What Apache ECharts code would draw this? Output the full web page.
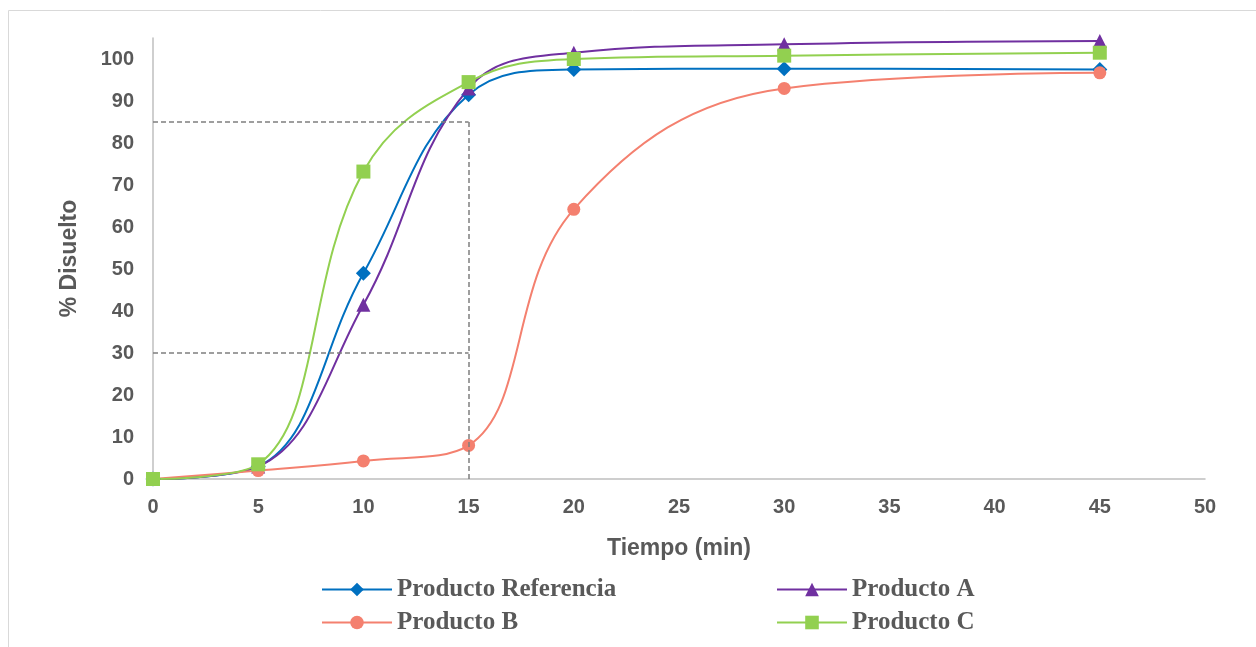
<!DOCTYPE html>
<html>
<head>
<meta charset="utf-8">
<script src="https://cdn.jsdelivr.net/npm/echarts@6/dist/echarts.min.js"></script>
<style>
  html, body { margin: 0; padding: 0; background: #fff; }
  #chart { width: 1256px; height: 647px; }
</style>
</head>
<body>
<div id="chart"></div>
<script>
const tiempo = [0, 5, 10, 15, 20, 30, 45];
const referencia = [0, 3, 49, 91.5, 97.5, 97.7, 97.5];
const productoA = [0, 3, 41.5, 93, 101.5, 103.5, 104.3];
const productoB = [0, 2, 4.3, 8, 64.2, 93, 96.7];
const productoC = [0, 3.5, 73.2, 94.5, 100, 100.8, 101.5];

// guías punteadas
const guias = [
  [[0, 85], [15, 85]],
  [[0, 30], [15, 30]],
  [[15, 0], [15, 85]]
];

const gray = "#595959";

function pares(ys) {
  return tiempo.map((t, i) => [t, ys[i]]);
}

function serie(name, ys, color, symbol, size) {
  return {
    name: name,
    type: "line",
    data: pares(ys),
    smooth: 0.4,
    symbol: symbol,
    symbolSize: size,
    lineStyle: { color: color, width: 2 },
    itemStyle: { color: color },
    z: 3
  };
}

const chart = echarts.init(document.getElementById("chart"));

const series = [
  serie("Producto Referencia", referencia, "#0070C0", "diamond", 15),
  serie("Producto A", productoA, "#7030A0", "triangle", 14),
  serie("Producto B", productoB, "#F4806F", "circle", 13),
  serie("Producto C", productoC, "#92D050", "rect", 14)
];

series[0].markLine = {
  silent: true,
  symbol: "none",
  label: { show: false },
  lineStyle: { color: "#7f7f7f", type: [5, 3], width: 1.5 },
  data: guias.map(g => [{ coord: g[0] }, { coord: g[1] }])
};

const legendText = {
  fontFamily: "Liberation Serif",
  fontWeight: 900,
  fontSize: 25,
  color: gray
};

chart.setOption({
  animation: false,
  graphic: [{
    type: "rect",
    shape: { x: 8.5, y: 10.5, width: 1260, height: 650 },
    style: { fill: "none", stroke: "#d9d9d9", lineWidth: 1 }
  }],
  grid: { left: 153, right: 51, top: 38, bottom: 168 },
  legend: [
    {
      data: ["Producto Referencia", "Producto B"],
      orient: "vertical",
      left: 316,
      top: 572,
      itemWidth: 70,
      itemHeight: 17,
      itemGap: 8,
      textStyle: legendText
    },
    {
      data: ["Producto A", "Producto C"],
      orient: "vertical",
      left: 771,
      top: 572,
      itemWidth: 70,
      itemHeight: 17,
      itemGap: 8,
      textStyle: legendText
    }
  ],
  xAxis: {
    type: "value",
    min: 0,
    max: 50,
    interval: 5,
    name: "Tiempo (min)",
    nameLocation: "middle",
    nameGap: 58,
    nameTextStyle: { fontFamily: "Liberation Sans", fontWeight: "bold", fontSize: 23, color: gray },
    axisLine: { show: true, lineStyle: { color: "#bfbfbf", width: 1.5 } },
    axisTick: { show: false },
    splitLine: { show: false },
    axisLabel: { fontFamily: "Liberation Sans", fontWeight: "bold", fontSize: 20, color: gray, margin: 18 }
  },
  yAxis: {
    type: "value",
    min: 0,
    max: 105,
    interval: 10,
    name: "% Disuelto",
    nameLocation: "middle",
    nameGap: 72,
    nameTextStyle: { fontFamily: "Liberation Sans", fontWeight: "bold", fontSize: 23, color: gray },
    axisLine: { show: true, lineStyle: { color: "#bfbfbf", width: 1.5 } },
    axisTick: { show: false },
    splitLine: { show: false },
    axisLabel: {
      fontFamily: "Liberation Sans", fontWeight: "bold", fontSize: 20, color: gray, margin: 19,
      formatter: v => (v <= 100 ? v : "")
    }
  },
  series: series
});
</script>
</body>
</html>
